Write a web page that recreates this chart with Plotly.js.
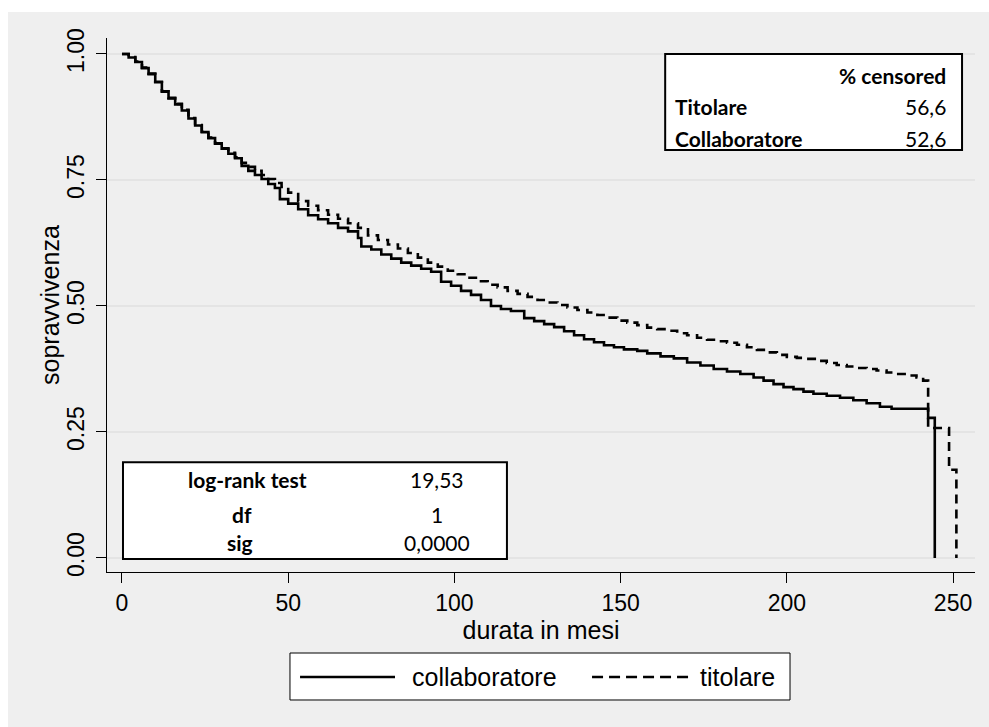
<!DOCTYPE html>
<html>
<head>
<meta charset="utf-8">
<script src="https://cdn.plot.ly/plotly-3.0.1.min.js"></script>
<style>html,body{margin:0;padding:0;background:#fff;}#chart{width:989px;height:727px;}</style>
</head>
<body>
<div id="chart"></div>
<script>
// Kaplan-Meier survival estimates (months, survival)
const collabTime = [0,2,4,6,8,10,12,14,16,18,20,22,24,26,28,30,32,34,36,38,40,42,44,46,47.5,50,53,56,59,62,65,68,71,72,75,78,81,84,87,90,93,96,99,102,105,108,111,114,117,121,124,127,130,133,136,139,142,145,148,151,155,158,162,166,170,174,178,182,186,190,193,196,199,202,205,208,212,216,220,224,228,231.5,242.5,244.5];
const collabSurv = [1.000,0.993,0.984,0.972,0.960,0.944,0.925,0.912,0.900,0.888,0.872,0.858,0.845,0.833,0.822,0.812,0.802,0.793,0.778,0.768,0.760,0.752,0.742,0.734,0.712,0.703,0.692,0.680,0.672,0.664,0.655,0.648,0.635,0.618,0.612,0.602,0.594,0.586,0.580,0.574,0.568,0.548,0.540,0.530,0.522,0.512,0.500,0.494,0.490,0.476,0.470,0.464,0.458,0.450,0.442,0.434,0.428,0.422,0.418,0.414,0.411,0.406,0.400,0.396,0.388,0.382,0.375,0.370,0.365,0.358,0.352,0.345,0.339,0.335,0.330,0.326,0.322,0.318,0.313,0.307,0.300,0.296,0.278,0.000];

const titTime = [0,2,4,6,8,10,12,14,16,18,20,22,24,26,28,30,32,34,36,38,40,42,44,46,48,50,53,56,59,62,65,68,71,74,77,80,83,86,89,92,95,98,101,104,107,110,113,116,119,122,125,128,131,134,137,140,143,146,149,152,155,158,161,164,167,170,173,176,179,182,185,188,191,194,197,200,203,206,209,212,215,218,221,224,227,230,233,236,239,241,242.5,248.8,251];
const titSurv = [1.000,0.994,0.985,0.973,0.961,0.945,0.926,0.913,0.901,0.889,0.873,0.859,0.846,0.834,0.823,0.813,0.804,0.795,0.784,0.776,0.768,0.760,0.752,0.744,0.736,0.725,0.708,0.699,0.690,0.681,0.673,0.664,0.655,0.640,0.631,0.622,0.614,0.605,0.596,0.586,0.578,0.570,0.563,0.556,0.549,0.542,0.537,0.530,0.524,0.518,0.512,0.507,0.502,0.497,0.492,0.487,0.482,0.477,0.471,0.467,0.462,0.457,0.454,0.451,0.446,0.442,0.437,0.433,0.430,0.427,0.423,0.418,0.413,0.408,0.403,0.399,0.397,0.395,0.391,0.387,0.383,0.380,0.377,0.375,0.372,0.368,0.365,0.362,0.358,0.352,0.258,0.175,0.000];

const seriesNames = ['collaboratore', 'titolare'];
const xTicks = [0, 50, 100, 150, 200, 250];
const yTicks = [0, 0.25, 0.5, 0.75, 1];
const xTitle = 'durata in mesi';
const yTitle = 'sopravvivenza';

const censorHeader = '% censored';
const censorGroups = ['Titolare', 'Collaboratore'];
const censorValues = ['56,6', '52,6'];

const testLabels = ['log-rank test', 'df', 'sig'];
const testValues = ['19,53', '1', '0,0000'];

const DASH = '9px,6px';
const traces = [
  {x: collabTime, y: collabSurv, name: seriesNames[0], type: 'scatter', mode: 'lines',
   line: {shape: 'hv', color: '#000', width: 2.6}},
  {x: titTime, y: titSurv, name: seriesNames[1], type: 'scatter', mode: 'lines',
   line: {shape: 'hv', color: '#000', width: 2.6, dash: DASH}}
];

const tblFont = {family: 'Lato, "Open Sans", sans-serif', size: 21, color: '#000'};
const axisFont = {family: '"Liberation Sans", Arial, sans-serif', size: 23, color: '#000'};
const titleFont = {family: '"Liberation Sans", Arial, sans-serif', size: 25, color: '#000'};

const annotations = [];
annotations.push({xref: 'x', yref: 'y', x: 248.5, y: 0.958, xanchor: 'right', yanchor: 'middle',
  text: '<b>' + censorHeader + '</b>', showarrow: false, font: tblFont});
const censorY = [0.895, 0.833];
censorGroups.forEach((g, i) => {
  annotations.push({xref: 'x', yref: 'y', x: 165.8, y: censorY[i], xanchor: 'left', yanchor: 'middle',
    text: '<b>' + g + '</b>', showarrow: false, font: tblFont});
  annotations.push({xref: 'x', yref: 'y', x: 248.5, y: censorY[i], xanchor: 'right', yanchor: 'middle',
    text: censorValues[i], showarrow: false, font: tblFont});
});
const testY = [0.155, 0.087, 0.030];
const testLabelX = [37.9, 36.1, 35.5];
testLabels.forEach((l, i) => {
  annotations.push({xref: 'x', yref: 'y', x: testLabelX[i], y: testY[i], xanchor: 'center', yanchor: 'middle',
    text: '<b>' + l + '</b>', showarrow: false, font: tblFont});
  annotations.push({xref: 'x', yref: 'y', x: 94.8, y: testY[i], xanchor: 'center', yanchor: 'middle',
    text: testValues[i], showarrow: false, font: tblFont});
});

// y-axis title (placed as Stata does, close to the rotated tick labels)
annotations.push({xref: 'paper', yref: 'paper', x: -0.0657, y: 0.5, xanchor: 'center', yanchor: 'middle',
  textangle: -90, text: yTitle, showarrow: false, font: titleFont});

// legend entries below the plot
const legY = -0.1966;
annotations.push({xref: 'paper', yref: 'paper', x: 0.3491, y: legY, xanchor: 'left', yanchor: 'middle',
  text: seriesNames[0], showarrow: false, font: titleFont});
annotations.push({xref: 'paper', yref: 'paper', x: 0.6809, y: legY, xanchor: 'left', yanchor: 'middle',
  text: seriesNames[1], showarrow: false, font: titleFont});

const shapes = [
  // grey graph region
  {type: 'rect', xref: 'paper', yref: 'paper', x0: -0.114, x1: 1.02, y0: -0.31, y1: 1.0487,
   fillcolor: '#efefef', line: {width: 0}, layer: 'below'},
  // tables
  {type: 'rect', xref: 'x', yref: 'y', x0: 163.4, x1: 252.7, y0: 0.8095, y1: 1.0,
   fillcolor: '#fff', line: {color: '#000', width: 2}, layer: 'above'},
  {type: 'rect', xref: 'x', yref: 'y', x0: 0.3, x1: 115.8, y0: -0.002, y1: 0.190,
   fillcolor: '#fff', line: {color: '#000', width: 2}, layer: 'above'},
  // legend box and keys
  {type: 'rect', xref: 'paper', yref: 'paper', x0: 0.2108, x1: 0.7869, y0: -0.2397, y1: -0.1517,
   fillcolor: '#fff', line: {color: '#000', width: 1}, layer: 'above'},
  {type: 'line', xref: 'paper', yref: 'paper', x0: 0.2224, x1: 0.3318, y0: legY, y1: legY,
   line: {color: '#000', width: 2.6}},
  {type: 'line', xref: 'paper', yref: 'paper', x0: 0.5588, x1: 0.6694, y0: legY, y1: legY,
   line: {color: '#000', width: 2.6, dash: '11px,6px'}}
];

const layout = {
  width: 989, height: 727,
  paper_bgcolor: '#ffffff',
  plot_bgcolor: '#ffffff',
  margin: {l: 107, r: 14, t: 38, b: 155, pad: 0},
  showlegend: false,
  xaxis: {
    range: [-4.51, 256.6], tickvals: xTicks, ticktext: xTicks.map(String),
    showgrid: false, zeroline: false, showline: true, linecolor: '#000', linewidth: 1,
    ticks: 'outside', ticklen: 10, tickcolor: '#000', tickfont: axisFont,
    title: {text: xTitle, font: titleFont, standoff: 2}
  },
  yaxis: {
    range: [-0.0278, 1.0317], tickvals: yTicks, tickformat: '.2f', tickangle: -90,
    showgrid: true, gridcolor: '#e4e4e4', gridwidth: 2,
    zeroline: false, showline: true, linecolor: '#000', linewidth: 1,
    ticks: 'outside', ticklen: 10, tickcolor: '#000', tickfont: axisFont,
    ticklabelstandoff: 3
  },
  annotations: annotations,
  shapes: shapes
};

Plotly.newPlot('chart', traces, layout, {displayModeBar: false, staticPlot: true});
</script>
</body>
</html>
